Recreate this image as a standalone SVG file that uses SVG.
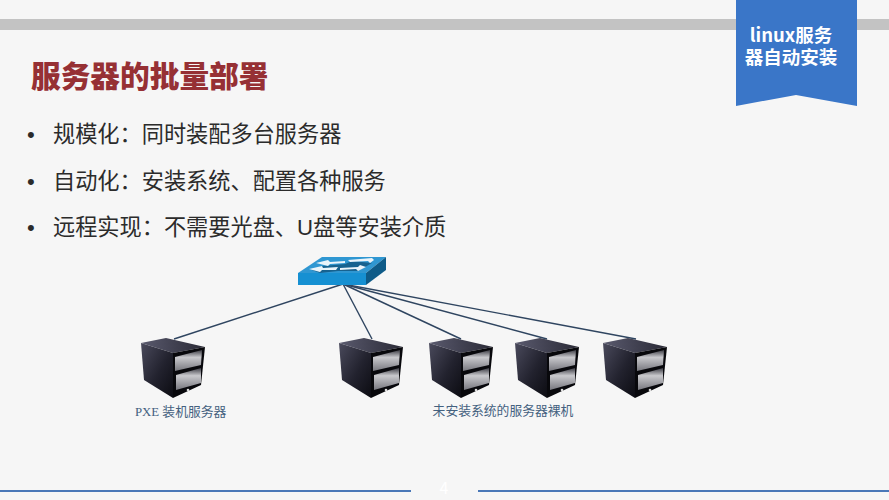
<svg xmlns="http://www.w3.org/2000/svg" width="889" height="500" viewBox="0 0 889 500">
<style>
.cjk{font-family:"Noto Sans CJK SC","Liberation Sans",sans-serif}
.b{font-size:22.2px;fill:#2b2b2b;font-family:"Liberation Sans","Noto Sans CJK SC",sans-serif}
.cap{font-size:12.8px;fill:#44617f;font-family:"Liberation Serif","Noto Sans CJK SC",serif}
.ln{stroke:#2f4560;stroke-width:1.4;fill:none}
</style>
<defs>
<linearGradient id="f" x1="0" y1="0" x2="1" y2="1"><stop offset="0" stop-color="#4a4a5c"/><stop offset=".55" stop-color="#22222e"/><stop offset="1" stop-color="#0c0c12"/></linearGradient>
<linearGradient id="t" x1="0" y1="0" x2="1" y2="0"><stop offset="0" stop-color="#5a5a6e"/><stop offset="1" stop-color="#2a2a36"/></linearGradient>
<linearGradient id="d" x1="0" y1="0" x2="0" y2="1"><stop offset="0" stop-color="#3c3c44"/><stop offset=".35" stop-color="#c9c9cd"/><stop offset="1" stop-color="#77777e"/></linearGradient>
<g id="srv">
<polygon points="0,5 25,0 64,9 32,15" fill="url(#t)"/>
<polygon points="0,5 32,15 32,60 3,42" fill="url(#f)"/>
<polygon points="32,15 64,9 60,47 32,60" fill="#08080c"/>
<polygon points="34,19 61,12 60,27 34,33" fill="url(#d)"/>
<polygon points="35,37 60,30 60,45 35,52" fill="url(#d)"/>
<circle cx="47" cy="52" r="1.3" fill="#ddd"/>
</g>
</defs>
<rect width="889" height="500" fill="#f6f6f6"/>
<rect x="0" y="19" width="889" height="11" fill="#c3c3c3"/>
<g id="badge">
<polygon points="736,0 857,0 857,106 796,95 736,106" fill="#3a76c8"/>
<text class="cjk" font-size="18.5" font-weight="700" fill="#fff" text-anchor="middle"><tspan x="791" y="42">linux服务</tspan><tspan x="791" y="64">器自动安装</tspan></text>
</g>
<text class="cjk" x="31" y="87" font-size="29.7" font-weight="900" fill="#963034">服务器的批量部署</text>
<g id="bullets">
<text class="b" x="27" y="142">•</text><text class="b" x="53" y="142">规模化：同时装配多台服务器</text>
<text class="b" x="27" y="189">•</text><text class="b" x="53" y="189">自动化：安装系统、配置各种服务</text>
<text class="b" x="27" y="235">•</text><text class="b" x="53" y="235">远程实现：不需要光盘、U盘等安装介质</text>
</g>
<g id="connectors">
<line class="ln" x1="343" y1="284" x2="174" y2="339"/>
<line class="ln" x1="343" y1="284" x2="372" y2="339"/>
<line class="ln" x1="343" y1="284" x2="461" y2="339"/>
<line class="ln" x1="343" y1="284" x2="547" y2="339"/>
<line class="ln" x1="343" y1="284" x2="636" y2="339"/>
</g>
<g id="switch">
<polygon points="298,273 322,257 386,257 366,273" fill="#2f97d2"/>
<polygon points="298,273 366,273 366,285 298,285" fill="#1690d2"/>
<polygon points="366,273 386,257 386,270 366,285" fill="#0e5b88"/>
<g fill="#17628f">
<polygon points="322,266 345,264 352,261 372,263 358,271 338,271 320,273 312,270"/>
</g>
<g fill="#eaf4fa">
<polygon points="316,263 328,260 330,262 345,261 345,263 330,264 328,266"/>
<polygon points="348,260 372,258 374,260 370,263 368,261 350,262"/>
<polygon points="309,269 322,266 323,268 338,267 336,270 322,270 320,272"/>
<polygon points="340,268 358,267 360,265 366,267 358,271 356,269 340,270"/>
</g>
</g>
<g id="pxe-server"><use href="#srv" x="141" y="338"/></g>
<g id="server-1"><use href="#srv" x="339" y="338"/></g>
<g id="server-2"><use href="#srv" x="429" y="338"/></g>
<g id="server-3"><use href="#srv" x="515" y="338"/></g>
<g id="server-4"><use href="#srv" x="603" y="338"/></g>
<text class="cap" x="135" y="416">PXE 装机服务器</text>
<text class="cap" x="503" y="415" text-anchor="middle">未安装系统的服务器裸机</text>
<g id="footer">
<rect x="0" y="490" width="411" height="2" fill="#4a78b8"/>
<rect x="478" y="490" width="411" height="2" fill="#4a78b8"/>
<text class="cjk" x="444" y="494" font-size="16" fill="#fff" text-anchor="middle">4</text>
</g>
</svg>
